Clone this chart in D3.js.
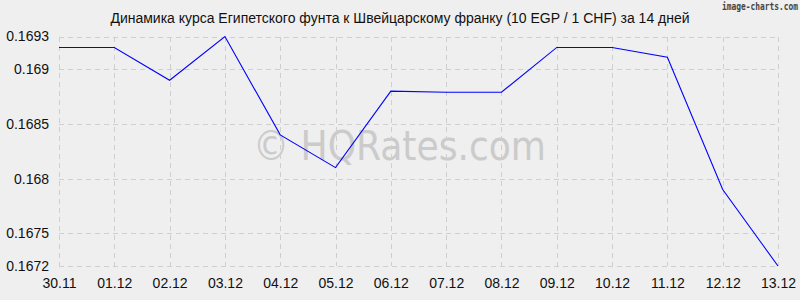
<!DOCTYPE html>
<html>
<head>
<meta charset="utf-8">
<script src="https://cdn.jsdelivr.net/npm/d3@7"></script>
<style>
  body { margin: 0; background: #efefef; }
  svg { display: block; }
</style>
</head>
<body>
<svg id="chart" width="800" height="300"></svg>
<script>
const dates = ['30.11', '01.12', '02.12', '03.12', '04.12', '05.12', '06.12',
    '07.12', '08.12', '09.12', '10.12', '11.12', '12.12', '13.12'];
const rates = [0.16920, 0.16920, 0.16890, 0.16930, 0.16840, 0.16810, 0.16880,
    0.16879, 0.16879, 0.16920, 0.16920, 0.16911, 0.16790, 0.16720];
const yTicks = [0.1672, 0.1675, 0.168, 0.1685, 0.169, 0.1693];
const title = 'Динамика курса Египетского фунта к Швейцарскому франку (10 EGP / 1 CHF) за 14 дней';

const svg = d3.select('#chart');
const plotLeft = 59, plotRight = 778, plotTop = 36.5, plotBottom = 266;

const x = d3.scalePoint().domain(dates).range([plotLeft, plotRight]);
const y = d3.scaleLinear().domain([0.1672, 0.1693]).range([plotBottom, plotTop]);

svg.append('rect').attr('width', 800).attr('height', 300).attr('fill', '#efefef');

// watermark
svg.append('text')
    .attr('x', 253).attr('y', 160)
    .attr('font-family', 'DejaVu Sans Condensed, DejaVu Sans, sans-serif')
    .attr('font-size', 40)
    .attr('textLength', 293)
    .attr('lengthAdjust', 'spacingAndGlyphs')
    .attr('fill', '#cbcbcb')
    .text('© HQRates.com');

// grid
const grid = svg.append('g')
    .attr('stroke', '#cfcfcf')
    .attr('stroke-dasharray', '5,4')
    .attr('shape-rendering', 'crispEdges');

grid.selectAll('line.h').data(yTicks).enter().append('line')
    .attr('class', 'h')
    .attr('x1', plotLeft).attr('x2', plotRight)
    .attr('y1', d => Math.round(y(d)) + 0.5)
    .attr('y2', d => Math.round(y(d)) + 0.5);

grid.selectAll('line.v').data(dates).enter().append('line')
    .attr('class', 'v')
    .attr('x1', d => Math.round(x(d)) + 0.5)
    .attr('x2', d => Math.round(x(d)) + 0.5)
    .attr('y1', plotTop).attr('y2', plotBottom);

// axes labels
const yAxis = d3.axisLeft(y).tickValues(yTicks).tickSize(0).tickPadding(10)
    .tickFormat(d => String(+d.toFixed(4)));
svg.append('g').attr('transform', `translate(${plotLeft},0)`).call(yAxis)
    .call(g => g.select('.domain').remove())
    .selectAll('text')
    .attr('font-family', 'Liberation Sans, Arial, sans-serif')
    .attr('font-size', 14)
    .attr('fill', '#111');

const xAxis = d3.axisBottom(x).tickSize(0).tickPadding(12);
svg.append('g').attr('transform', `translate(0,${plotBottom})`).call(xAxis)
    .call(g => g.select('.domain').remove())
    .selectAll('text')
    .attr('font-family', 'Liberation Sans, Arial, sans-serif')
    .attr('font-size', 14)
    .attr('fill', '#111');

// line
const line = d3.line()
    .x((d, i) => x(dates[i]))
    .y(d => y(d));

svg.append('path')
    .datum(rates)
    .attr('fill', 'none')
    .attr('stroke', '#0000ff')
    .attr('stroke-width', 1.1)
    .attr('d', line);

// title
svg.append('text')
    .attr('x', 400).attr('y', 23)
    .attr('text-anchor', 'middle')
    .attr('font-family', 'Liberation Sans, Arial, sans-serif')
    .attr('font-size', 14)
    .attr('fill', '#111')
    .text(title);

svg.append('text')
    .attr('x', 722).attr('y', 10)
    .attr('font-family', 'DejaVu Sans Mono, monospace')
    .attr('font-size', 10)
    .attr('font-weight', 'bold')
    .attr('textLength', 76)
    .attr('lengthAdjust', 'spacingAndGlyphs')
    .attr('fill', '#444')
    .text('image-charts.com');
</script>
</body>
</html>
